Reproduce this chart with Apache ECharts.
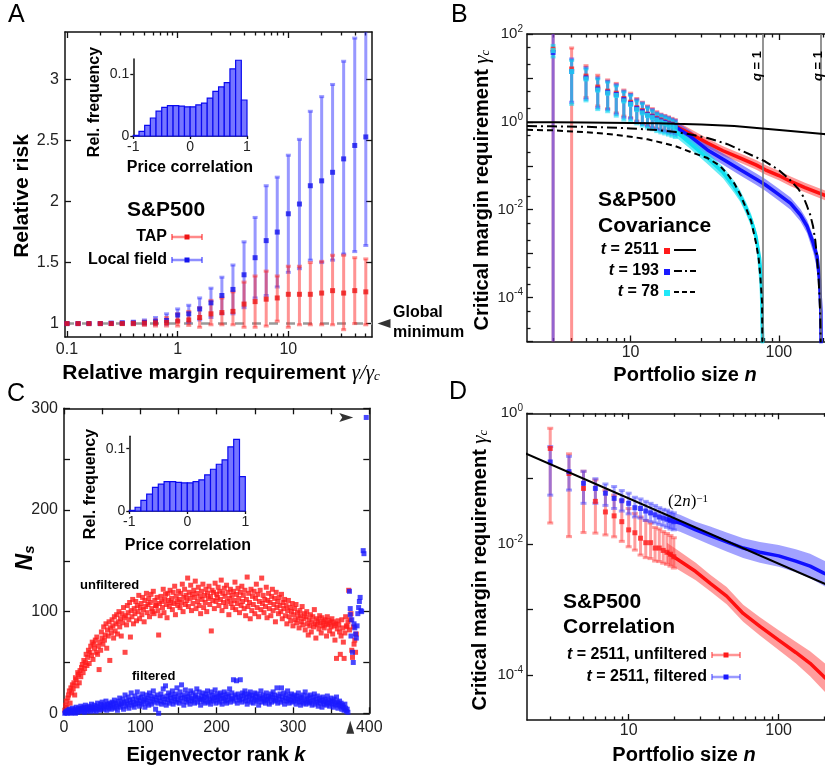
<!DOCTYPE html>
<html><head><meta charset="utf-8">
<script src="https://cdn.jsdelivr.net/npm/echarts@6/dist/echarts.min.js"></script>
<style>html,body{margin:0;padding:0;background:#fff}#c{width:825px;height:769px}</style>
</head><body><div id="c"></div>
<script>
const FONT = "'Liberation Sans', Arial, Helvetica, sans-serif";
const SERIF = "'Liberation Serif', 'DejaVu Serif', 'Times New Roman', serif";

// ---------------- Panel A data ----------------
const aRatio = [0.1,0.126,0.158,0.2,0.251,0.316,0.398,0.501,0.631,0.794,1,1.26,1.58,2,2.51,3.16,3.98,5.01,6.31,7.94,10,12.6,15.8,20,25.1,31.6,39.8,50.1];
const lfMean = [1.0,1.0,1.0,1.0,1.002,1.004,1.006,1.01,1.016,1.025,1.07,1.08,1.12,1.17,1.23,1.28,1.40,1.54,1.68,1.75,1.90,1.98,2.13,2.17,2.24,2.35,2.46,2.53];
const lfLo   = [0.995,0.995,0.995,0.995,0.995,0.995,0.993,0.99,0.99,0.99,1.02,1.01,1.03,1.05,1.08,1.08,1.13,1.21,1.23,1.30,1.42,1.45,1.52,1.50,1.52,1.57,1.59,1.64];
const lfHi   = [1.005,1.005,1.006,1.008,1.012,1.016,1.02,1.03,1.05,1.08,1.12,1.15,1.21,1.29,1.38,1.48,1.67,1.87,2.13,2.20,2.38,2.51,2.74,2.86,2.96,3.15,3.34,3.43];
const tapMean = [1.0,1.0,1.0,1.0,1.0,1.0,1.002,1.004,1.006,1.01,1.02,1.03,1.05,1.08,1.09,1.10,1.16,1.18,1.20,1.21,1.24,1.24,1.24,1.25,1.27,1.25,1.27,1.26];
const tapLo   = [0.997,0.997,0.997,0.997,0.995,0.995,0.99,0.985,0.98,0.98,0.98,0.985,0.97,0.99,0.99,0.99,0.97,0.97,0.98,1.02,0.97,0.99,0.99,0.99,0.99,0.95,1.0,0.99];
const tapHi   = [1.003,1.003,1.003,1.004,1.005,1.006,1.01,1.02,1.03,1.05,1.08,1.10,1.13,1.19,1.21,1.26,1.34,1.39,1.43,1.39,1.47,1.47,1.50,1.51,1.56,1.56,1.54,1.53];
const globalMinRisk = 1;
const aXTicks = [0.1, 1, 10];
const aXMinorTicks = [0.2,0.3,0.4,0.5,0.6,0.7,0.8,0.9,2,3,4,5,6,7,8,9,20,30,40,50];
const aYTicks = [1, 1.5, 2, 2.5, 3];

// inset histograms (price correlation)
const histLeft = [-1,-0.9,-0.8,-0.7,-0.6,-0.5,-0.4,-0.3,-0.2,-0.1,0,0.1,0.2,0.3,0.4,0.5,0.6,0.7,0.8,0.9];
const histBinWidth = 0.1;
const histFreqA = [0.001,0.0076,0.017,0.029,0.040,0.046,0.049,0.049,0.048,0.047,0.047,0.050,0.053,0.061,0.072,0.079,0.086,0.108,0.122,0.058];
const histFreqC = [0.001,0.006,0.017,0.027,0.038,0.043,0.047,0.047,0.046,0.045,0.045,0.047,0.050,0.058,0.067,0.075,0.082,0.103,0.115,0.055];
const histXTicks = [-1, 0, 1];
const histYTicks = [0, 0.1];

// ---------------- Panel B data ----------------
const bN = [3,4,5,6,7,8,9,10,11,12,13,14,15,16,17,18,19,20];
const b2511Mean = [45,16,11,6.2,5.0,4.5,3.4,2.8,2.1,1.8,1.5,1.35,1.2,1.1,1.0,0.93,0.88,0.83];
const b2511Lo   = [1e-6,1e-6,3.6,2.3,2.0,1.6,1.35,1.25,1.05,0.92,0.83,0.76,0.7,0.66,0.63,0.6,0.58,0.56];
const b2511Hi   = [1e3,48,19,11.5,9.0,7.5,5.3,4.5,3.4,2.8,2.3,2.0,1.7,1.5,1.4,1.3,1.2,1.12];
const b193Mean = [38,14,10,5.6,4.7,4.2,3.2,2.6,2.0,1.7,1.45,1.3,1.15,1.05,0.97,0.9,0.85,0.8];
const b193Lo   = [1e-6,2.8,3.3,2.1,1.9,1.5,1.25,1.2,1.0,0.88,0.8,0.73,0.67,0.63,0.6,0.57,0.55,0.52];
const b193Hi   = [1e3,27,17,10,8.4,7.0,5.0,4.2,3.2,2.7,2.2,1.9,1.6,1.45,1.35,1.25,1.15,1.08];
const b78Mean = [42,14,9.5,5.3,4.5,4.0,3.0,2.5,1.9,1.6,1.4,1.25,1.1,1.0,0.92,0.85,0.8,0.74];
const b78Lo   = [30,2.5,3.0,1.9,1.7,1.35,1.1,1.05,0.9,0.8,0.72,0.66,0.6,0.56,0.53,0.5,0.47,0.44];
const b78Hi   = [55,25,16,9.5,8.0,6.6,4.8,4.0,3.0,2.6,2.1,1.8,1.55,1.4,1.3,1.2,1.1,1.0];

const b2511BandN    = [20,25,33,42,55,70,81,100,120,150,213,300,400,500];
const b2511BandMean = [0.8,0.55,0.33,0.22,0.15,0.105,0.081,0.06,0.044,0.032,0.02,0.013,0.009,0.007];
const b2511BandLo   = [0.6,0.43,0.26,0.17,0.117,0.082,0.063,0.047,0.034,0.025,0.0155,0.01,0.007,0.0054];
const b2511BandHi   = [1.08,0.71,0.42,0.28,0.19,0.135,0.104,0.077,0.057,0.041,0.026,0.017,0.012,0.009];
const b193BandN    = [20,25,33,42,55,70,81,100,120,140,155,170,181,188,192,194];
const b193BandMean = [0.78,0.48,0.23,0.14,0.081,0.05,0.037,0.022,0.014,0.0075,0.0042,0.0018,8.6e-4,2.5e-4,5e-5,1e-7];
const b193BandLo   = [0.58,0.36,0.17,0.105,0.06,0.037,0.027,0.016,0.01,0.0054,0.0029,0.0011,4.5e-4,1e-4,1e-7,1e-7];
const b193BandHi   = [1.05,0.65,0.31,0.19,0.11,0.068,0.05,0.03,0.019,0.0102,0.0058,0.0026,0.0013,4.5e-4,1.2e-4,1e-7];
const b78BandN    = [20,25,33,42,50,55,60,65,70,74,76,77,78,80];
const b78BandMean = [0.62,0.33,0.15,0.07,0.033,0.02,0.011,0.0058,0.0025,8e-4,3e-4,9e-5,1e-6,1e-7];
const b78BandLo   = [0.46,0.25,0.11,0.052,0.024,0.015,0.008,0.0042,0.0017,2e-4,1e-7,1e-7,1e-7,1e-7];
const b78BandHi   = [0.84,0.45,0.2,0.095,0.045,0.027,0.015,0.008,0.0035,0.0012,5e-4,2e-4,1e-4,1e-7];

const theory2511N = [2,3,5,7,10,15,20,30,50,81,120,200,300,500];
const theory2511  = [0.98,0.975,0.965,0.955,0.945,0.925,0.9,0.87,0.8,0.7,0.62,0.53,0.46,0.36];
const theory193N = [2,3,5,7,10,15,20,25,33,45,60,81,100,120,135,146,155,163,170,176,181,185,188,190,192,193];
const theory193  = [0.8,0.79,0.77,0.745,0.71,0.65,0.59,0.52,0.43,0.31,0.2,0.125,0.08,0.046,0.03,0.02,0.012,0.0075,0.0042,0.002,8e-4,3e-4,1e-4,4e-5,5e-6,1e-7];
const theory78N = [2,3,5,7,10,13,16,20,26,33,40,45,50,55,60,65,70,73,75,77,78];
const theory78  = [0.66,0.64,0.58,0.53,0.46,0.4,0.34,0.28,0.2,0.15,0.1,0.065,0.04,0.022,0.011,0.0055,0.0018,0.0008,0.0003,8e-5,1e-7];
const qOneN = [78, 193];
const bXTicks = [10, 100];
const bXMinorTicks = [3,4,5,6,7,8,9,20,30,40,50,60,70,80,90,200,300,400,500];
const bYTicks = [1e-5,1e-4,1e-3,1e-2,1e-1,1,10,100];
const bYLabels = [1e-4,1e-2,1,100];
const bYMinorTicks = [2e-5,5e-5,2e-4,5e-4,2e-3,5e-3,2e-2,5e-2,0.2,0.5,2,5,20,50];

// ---------------- Panel C data ----------------
const cUnfiltered = [
3,8,12,6,15,18,22,10,25,20,28,24,30,18,35,33,27,40,38,30,
42,36,45,48,40,52,44,50,58,47,55,62,49,60,66,57,70,53,68,64,
72,60,75,58,66,43,70,62,80,74,68,85,72,77,88,64,82,76,90,52,
84,79,92,86,74,95,81,88,97,78,90,100,85,93,76,98,89,104,94,60,
96,87,106,99,92,109,75,101,95,112,88,103,98,110,91,106,100,116,93,104,
108,97,114,102,90,111,105,118,99,107,113,95,109,117,103,100,120,98,111,106,
106,114,101,77,108,96,115,110,104,122,99,112,117,107,94,118,111,105,121,109,
113,102,119,108,125,97,115,110,106,120,112,104,118,109,127,100,114,122,107,116,
111,133,105,119,113,126,101,117,108,121,114,130,103,118,110,124,106,115,98,120,
112,127,104,116,109,122,100,118,113,125,107,115,81,121,111,119,103,128,110,117,
114,124,106,120,112,131,101,118,109,123,115,105,126,110,119,97,113,122,108,116,
104,120,111,129,102,117,108,123,113,99,119,106,125,110,116,103,121,96,112,134,
105,118,109,93,122,101,115,107,120,98,113,127,104,117,95,110,121,102,133,108,
116,99,112,105,124,94,111,118,103,109,96,115,122,101,107,113,90,119,104,110,
98,114,106,100,117,93,109,103,112,96,106,88,101,111,95,104,91,100,108,86,
97,103,92,107,89,99,94,84,101,96,90,105,87,93,98,82,95,100,88,77,
92,86,97,80,90,95,85,102,88,74,93,87,91,83,96,89,79,94,86,90,
84,92,88,76,95,87,91,81,89,85,93,78,90,86,72,88,54,83,91,87,
80,58,76,92,84,70,54,79,95,86,85,90,121,82,92,98,62,55,85,68,72,60,78];
const cFiltered = [
0,1,2,0,3,1,4,2,0,3,5,1,2,4,0,6,3,1,5,2,
4,7,2,5,3,6,1,8,4,2,6,3,7,5,2,9,4,6,3,8,
5,2,7,10,4,6,3,9,5,11,7,4,8,6,12,3,9,7,5,10,
8,4,11,6,9,13,5,10,7,3,12,8,15,6,10,9,14,4,11,18,
7,12,9,16,5,13,10,20,8,14,11,6,17,9,13,21,10,15,7,12,
16,9,19,11,14,6,13,18,10,15,8,20,12,17,9,14,22,11,16,4,
13,18,10,0,15,12,19,9,16,24,11,14,27,8,17,13,20,10,15,18,
12,22,9,16,14,19,11,25,13,17,10,21,15,28,12,18,8,16,23,14,
11,19,13,17,9,22,15,12,20,14,10,18,16,24,11,15,21,13,8,17,
14,20,12,16,10,19,15,22,11,17,13,9,21,14,18,12,16,23,10,15,
19,13,17,11,20,15,9,18,14,21,12,16,10,19,13,17,24,11,15,20,
14,33,12,18,16,32,10,19,15,13,33,17,11,20,14,18,22,12,16,9,
19,13,17,21,11,15,18,10,14,20,16,12,19,13,8,17,15,22,11,14,
18,12,16,10,20,14,13,17,9,15,19,11,16,21,13,18,12,15,25,10,
17,14,19,11,25,16,13,20,9,15,18,12,22,14,10,17,13,19,11,16,
12,18,14,9,17,13,20,11,15,8,16,12,18,10,14,21,9,13,17,11,
15,10,18,12,8,16,13,19,9,14,11,17,7,12,15,10,13,6,16,11,
9,14,12,8,17,10,13,7,11,15,9,12,6,14,10,8,16,11,5,9,
12,7,10,4,8,6,3,9,5,2,4,1];
const cFilteredTail = [[374,120],[375,103],[375,97],[376,76],[377,92],[378,60],[379,50],[380,88],[381,84],[382,78],[383,74],[384,86],[385,98],[386,104],[387,110],[388,114],[389,101],[390,100],[392,160],[393,157],[396,291]];
const cArrowTop = [[396, 291]];
const cArrowBottom = [[375, 0]];
const cXTicks = [0,50,100,150,200,250,300,350,400];
const cXLabels = [0,100,200,300,400];
const cYTicks = [0,50,100,150,200,250,300];
const cYLabels = [0,100,200,300];

// ---------------- Panel D data ----------------
const dN = [3,4,5,6,7,8,9,10,11,12,13,14,15,16,17,18,19,20];
const dUnfMean = [0.29,0.12,0.071,0.045,0.031,0.027,0.022,0.0165,0.0149,0.0123,0.0105,0.0105,0.0087,0.0087,0.008,0.0075,0.007,0.0064];
const dUnfLo   = [0.021,0.013,0.015,0.0147,0.0138,0.0129,0.011,0.0091,0.0081,0.0068,0.0062,0.006,0.0055,0.0054,0.0051,0.0049,0.0046,0.0043];
const dUnfHi   = [0.59,0.24,0.13,0.096,0.067,0.056,0.047,0.035,0.0295,0.026,0.023,0.021,0.018,0.017,0.0155,0.0145,0.0135,0.0125];
const dFilMean = [0.18,0.128,0.085,0.071,0.06,0.05,0.046,0.042,0.036,0.035,0.032,0.03,0.028,0.026,0.025,0.024,0.023,0.022];
const dFilLo   = [0.056,0.067,0.042,0.042,0.039,0.035,0.032,0.029,0.026,0.025,0.023,0.022,0.021,0.02,0.019,0.018,0.017,0.0165];
const dFilHi   = [0.31,0.22,0.13,0.1,0.083,0.076,0.066,0.06,0.052,0.049,0.045,0.042,0.039,0.036,0.034,0.033,0.031,0.03];
const dUnfBandN    = [18,22,28,35,45,58,75,100,130,162,200,250,300,400];
const dUnfBandMean = [0.0075,0.0055,0.0038,0.0025,0.0016,8.7e-4,5.5e-4,3.4e-4,2.2e-4,1.5e-4,9.4e-5,6e-5,4e-5,2.2e-5];
const dUnfBandLo   = [0.0052,0.0039,0.0028,0.0019,0.0012,6.5e-4,4e-4,2.4e-4,1.5e-4,9.5e-5,5.7e-5,3.5e-5,2.3e-5,1.2e-5];
const dUnfBandHi   = [0.0105,0.0076,0.0052,0.0034,0.0022,0.00118,7.6e-4,4.8e-4,3.2e-4,2.3e-4,1.55e-4,1e-4,7e-5,4e-5];
const dFilBandN    = [18,22,28,35,45,58,75,100,130,162,200,250,300,400];
const dFilBandMean = [0.024,0.021,0.0165,0.0135,0.0108,0.0087,0.0075,0.0066,0.0055,0.0046,0.0036,0.0028,0.0022,0.0015];
const dFilBandLo   = [0.018,0.0155,0.0122,0.0098,0.0077,0.0061,0.0052,0.0045,0.0037,0.003,0.0023,0.0018,0.0014,0.0009];
const dFilBandHi   = [0.032,0.028,0.022,0.0185,0.015,0.0123,0.0108,0.0097,0.0083,0.0071,0.0056,0.0044,0.0035,0.0025];
const dPowerN = [2, 500];
const dPower  = [0.25, 0.001];
const dXTicks = [10, 100];
const dXMinorTicks = [3,4,5,6,7,8,9,20,30,40,50,60,70,80,90,200,300,400,500];
const dYTicks = [1e-4,1e-3,1e-2,1e-1,1];
const dYLabels = [1e-4,1e-2,1];

// ---------------- helpers ----------------
const zip3 = (x, a, b) => x.map((v, i) => [v, a[i], b[i]]);
const zip2 = (x, a) => x.map((v, i) => [v, a[i]]);
const AXL = {color: '#111', width: 1.5};
const TICK = {color: '#111', width: 1.3};

function errRender(color, lw, cap) {
  return function (params, api) {
    const cs = params.coordSys;
    const x = api.value(0), lo = api.value(1), hi = api.value(2);
    const top = api.coord([x, hi]), bot = api.coord([x, lo]);
    const y0 = cs.y, y1 = cs.y + cs.height;
    const cl = v => Math.max(y0, Math.min(y1, v));
    const st = {stroke: color, lineWidth: lw};
    const ch = [{type: 'line', shape: {x1: top[0], y1: cl(top[1]), x2: bot[0], y2: cl(bot[1])}, style: st}];
    if (top[1] >= y0) ch.push({type: 'line', shape: {x1: top[0] - cap, y1: top[1], x2: top[0] + cap, y2: top[1]}, style: st});
    if (bot[1] <= y1) ch.push({type: 'line', shape: {x1: bot[0] - cap, y1: bot[1], x2: bot[0] + cap, y2: bot[1]}, style: st});
    return {type: 'group', children: ch};
  };
}
function errSeries(xi, yi, data, color, lw, cap, z) {
  return {type: 'custom', xAxisIndex: xi, yAxisIndex: yi, data, silent: true, z: z || 2,
    renderItem: errRender(color, lw, cap)};
}
function bandSeries(xi, yi, ns, lo, hi, color, z) {
  return {type: 'custom', xAxisIndex: xi, yAxisIndex: yi, silent: true, z: z || 2,
    data: [[ns[0], hi[0]]],
    renderItem: function (params, api) {
      const cs = params.coordSys;
      const y0 = cs.y, y1 = cs.y + cs.height;
      const cl = p => [p[0], Math.max(y0, Math.min(y1, p[1]))];
      const pts = [];
      for (let i = 0; i < ns.length; i++) pts.push(cl(api.coord([ns[i], hi[i]])));
      for (let i = ns.length - 1; i >= 0; i--) pts.push(cl(api.coord([ns[i], lo[i]])));
      return {type: 'polygon', shape: {points: pts}, style: {fill: color}};
    }};
}
function histSeries(xi, yi, freq) {
  return {type: 'custom', xAxisIndex: xi, yAxisIndex: yi, silent: true,
    data: histLeft.map((l, i) => [l, freq[i]]),
    renderItem: function (params, api) {
      const l = api.value(0), f = api.value(1);
      const p0 = api.coord([l, 0]), p1 = api.coord([l + histBinWidth, f]);
      return {type: 'rect', shape: {x: p0[0], y: p1[1], width: p1[0] - p0[0], height: p0[1] - p1[1]},
        style: {fill: '#7676ff', stroke: '#0a0af0', lineWidth: 1.2}};
    }};
}
function scat(xi, yi, data, color, size, z) {
  return {type: 'scatter', xAxisIndex: xi, yAxisIndex: yi, data, symbol: 'rect', symbolSize: size,
    itemStyle: {color}, silent: true, z: z || 3, clip: true};
}
function meanLine(xi, yi, ns, m, color, w, z) {
  return {type: 'line', xAxisIndex: xi, yAxisIndex: yi, data: zip2(ns, m), showSymbol: false, symbol: 'none',
    lineStyle: {color, width: w}, silent: true, clip: true, z: z || 3};
}
const decLabel = v => String(Number(Math.pow(10, Math.round(Math.log10(v))).toPrecision(1)));
const supLabel = v => '{b|10}{s|' + Math.round(Math.log10(v)) + '}';
const supRich = {b: {fontSize: 15, fontFamily: FONT, color: '#222', lineHeight: 20},
                 s: {fontSize: 10, fontFamily: FONT, color: '#222', verticalAlign: 'top', lineHeight: 10}};

function mainAxis(grid, type, min, max, pos, ticks, labels, opts) {
  opts = opts || {};
  return Object.assign({
    type, gridIndex: grid, min, max, position: pos, splitLine: {show: false},
    axisLine: {show: opts.line !== false, onZero: false, lineStyle: AXL},
    axisTick: {show: true, inside: opts.outside ? false : true, length: opts.tickLen || 6, lineStyle: TICK, customValues: ticks},
    axisLabel: labels ? Object.assign({show: true, customValues: labels, fontSize: 16, fontFamily: FONT, color: '#222', margin: 5}, opts.label || {}) : {show: false}
  }, opts.extra || {});
}

// ---------------- axes ----------------
const xAxis = [
  mainAxis(0, 'log', 0.096, 57, 'bottom', aXTicks, aXTicks, {label: {formatter: decLabel, margin: 5}}), //0
  mainAxis(0, 'log', 0.096, 57, 'bottom', aXMinorTicks, null, {line: false, tickLen: 3.5}),               //1
  mainAxis(0, 'log', 0.096, 57, 'top', aXTicks, null),                                                   //2
  mainAxis(0, 'log', 0.096, 57, 'top', aXMinorTicks, null, {line: false, tickLen: 3.5}),                  //3
  mainAxis(1, 'value', -1, 1, 'bottom', histXTicks, histXTicks, {outside: true, tickLen: 3, label: {fontSize: 14, margin: 4}}), //4
  mainAxis(2, 'log', 2, 500, 'bottom', bXTicks, bXTicks, {label: {formatter: decLabel, margin: 3}}),   //5
  mainAxis(2, 'log', 2, 500, 'bottom', bXMinorTicks, null, {line: false, tickLen: 3.5}),                //6
  mainAxis(2, 'log', 2, 500, 'top', bXTicks, null),                                                     //7
  mainAxis(2, 'log', 2, 500, 'top', bXMinorTicks, null, {line: false, tickLen: 3.5}),                   //8
  mainAxis(3, 'value', 0, 400, 'bottom', cXTicks, cXLabels, {label: {margin: 6}}),                      //9
  mainAxis(3, 'value', 0, 400, 'top', cXTicks, null),                                                   //10
  mainAxis(4, 'value', -1, 1, 'bottom', histXTicks, histXTicks, {outside: true, tickLen: 3, label: {fontSize: 14, margin: 4}}), //11
  mainAxis(5, 'log', 2.1, 500, 'bottom', dXTicks, dXTicks, {label: {formatter: decLabel, margin: 3}}), //12
  mainAxis(5, 'log', 2.1, 500, 'bottom', dXMinorTicks, null, {line: false, tickLen: 3.5}),              //13
  mainAxis(5, 'log', 2.1, 500, 'top', dXTicks, null),                                                   //14
  mainAxis(5, 'log', 2.1, 500, 'top', dXMinorTicks, null, {line: false, tickLen: 3.5})                  //15
];
const yAxis = [
  mainAxis(0, 'value', 0.89, 3.39, 'left', aYTicks, aYTicks, {label: {margin: 6}}),                   //0
  mainAxis(0, 'value', 0.89, 3.39, 'right', aYTicks, null),                                           //1
  mainAxis(1, 'value', 0, 0.124, 'left', histYTicks, histYTicks, {outside: true, tickLen: 3, label: {fontSize: 14, margin: 4}}), //2
  mainAxis(2, 'log', 1e-5, 100, 'left', bYTicks, bYLabels, {label: {formatter: supLabel, rich: supRich, margin: 4}}), //3
  mainAxis(2, 'log', 1e-5, 100, 'left', bYMinorTicks, null, {line: false, tickLen: 3.5}),             //4
  mainAxis(3, 'value', 0, 300, 'left', cYTicks, cYLabels, {label: {margin: 6}}),                      //5
  mainAxis(3, 'value', 0, 300, 'right', cYTicks, null),                                               //6
  mainAxis(4, 'value', 0, 0.12, 'left', histYTicks, histYTicks, {outside: true, tickLen: 3, label: {fontSize: 14, margin: 4}}), //7
  mainAxis(5, 'log', 2.04e-5, 1, 'left', dYTicks, dYLabels, {label: {formatter: supLabel, rich: supRich, margin: 4}})  //8
];

const grid = [
  {left: 65, top: 32, width: 307, height: 305},
  {left: 133.3, top: 59, width: 113.7, height: 77},
  {left: 527, top: 34, width: 355.5, height: 307.5},
  {left: 64, top: 408.3, width: 305.3, height: 305},
  {left: 129.3, top: 436.2, width: 116, height: 74.8},
  {left: 527, top: 413.3, width: 356.5, height: 306.7}
].map(g => Object.assign({outerBoundsMode: 'none', containLabel: false}, g));

// ---------------- series ----------------
const RED_BAR = 'rgba(255,40,40,0.5)', BLUE_BAR = 'rgba(50,50,255,0.5)', CYAN_BAR = 'rgba(0,215,240,0.55)';
const series = [
  // A
  errSeries(0, 0, zip3(aRatio, lfLo, lfHi), BLUE_BAR, 3, 2.5),
  errSeries(0, 0, zip3(aRatio, tapLo, tapHi), RED_BAR, 3, 2.5),
  Object.assign(scat(0, 0, zip2(aRatio, lfMean), '#1414ee', 5), {
    markLine: {silent: true, symbol: 'none', data: [{yAxis: globalMinRisk}], label: {show: false},
      lineStyle: {color: '#9a9a9a', width: 2.5, type: [9, 8]}, z: 1}}),
  scat(0, 0, zip2(aRatio, tapMean), '#ee1414', 5),
  {type: 'scatter', xAxisIndex: 0, yAxisIndex: 0, data: [[57, globalMinRisk]], clip: false, silent: true,
    symbol: 'path://M12,0 L0,5 L12,10 Z', symbolSize: [13, 9], symbolOffset: [12, 0], itemStyle: {color: '#000'}},
  histSeries(4, 2, histFreqA),
  // B
  bandSeries(5, 3, b2511BandN, b2511BandLo, b2511BandHi, 'rgba(255,50,50,0.5)'),
  bandSeries(5, 3, b193BandN, b193BandLo, b193BandHi, 'rgba(60,60,255,0.55)'),
  bandSeries(5, 3, b78BandN, b78BandLo, b78BandHi, 'rgba(0,225,240,0.6)'),
  meanLine(5, 3, b2511BandN, b2511BandMean, '#ff1010', 3.5),
  meanLine(5, 3, b193BandN, b193BandMean, '#1010ff', 3.5),
  meanLine(5, 3, b78BandN, b78BandMean, '#10e0f0', 3.5),
  errSeries(5, 3, zip3(bN, b2511Lo, b2511Hi), 'rgba(255,60,60,0.55)', 3, 2.5),
  errSeries(5, 3, zip3(bN, b193Lo, b193Hi), 'rgba(60,60,255,0.55)', 3, 2.5),
  errSeries(5, 3, zip3(bN, b78Lo, b78Hi), CYAN_BAR, 3, 2.5),
  scat(5, 3, zip2(bN, b2511Mean), '#ff2020', 5),
  scat(5, 3, zip2(bN, b193Mean), '#1a1aff', 5),
  scat(5, 3, zip2(bN, b78Mean), '#20e0f0', 5),
  {type: 'line', xAxisIndex: 5, yAxisIndex: 3, data: zip2(theory2511N, theory2511), showSymbol: false, symbol: 'none', clip: true, silent: true, z: 5,
    lineStyle: {color: '#000', width: 2}},
  {type: 'line', xAxisIndex: 5, yAxisIndex: 3, data: zip2(theory193N, theory193), showSymbol: false, symbol: 'none', clip: true, silent: true, z: 5,
    lineStyle: {color: '#000', width: 2, type: [10, 4, 2, 4]}},
  {type: 'line', xAxisIndex: 5, yAxisIndex: 3, data: zip2(theory78N, theory78), showSymbol: false, symbol: 'none', clip: true, silent: true, z: 5,
    lineStyle: {color: '#000', width: 2, type: [6, 4]},
    markLine: {silent: true, symbol: 'none', label: {show: false}, data: qOneN.map(v => ({xAxis: v})),
      lineStyle: {color: '#7a7a7a', width: 1.6, type: 'solid'}}},
  // C
  scat(9, 5, cUnfiltered.map((v, i) => [i + 1, v]), '#ff1a1a', 5),
  scat(9, 5, cFiltered.map((v, i) => [i + 1, v]).concat(cFilteredTail), '#1a1aff', 5),
  {type: 'scatter', xAxisIndex: 9, yAxisIndex: 5, data: cArrowTop, clip: false, silent: true,
    symbol: 'path://M0,0 L14,5 L0,10 L3,5 Z', symbolSize: [14, 9], symbolOffset: [-20, 0], itemStyle: {color: '#000'}},
  {type: 'scatter', xAxisIndex: 9, yAxisIndex: 5, data: cArrowBottom, clip: false, silent: true,
    symbol: 'triangle', symbolSize: [8, 13], symbolOffset: [0, 14], itemStyle: {color: '#000'}},
  histSeries(11, 7, histFreqC),
  // D
  bandSeries(12, 8, dUnfBandN, dUnfBandLo, dUnfBandHi, 'rgba(255,60,60,0.5)'),
  bandSeries(12, 8, dFilBandN, dFilBandLo, dFilBandHi, 'rgba(70,70,255,0.5)'),
  meanLine(12, 8, dUnfBandN, dUnfBandMean, '#ff1010', 3.5),
  meanLine(12, 8, dFilBandN, dFilBandMean, '#1010ff', 3.5),
  errSeries(12, 8, zip3(dN, dUnfLo, dUnfHi), 'rgba(255,60,60,0.5)', 3, 3),
  errSeries(12, 8, zip3(dN, dFilLo, dFilHi), 'rgba(70,70,255,0.5)', 3, 3),
  scat(12, 8, zip2(dN, dUnfMean), '#ff1a1a', 5),
  scat(12, 8, zip2(dN, dFilMean), '#1a1aff', 5),
  {type: 'line', xAxisIndex: 12, yAxisIndex: 8, data: zip2(dPowerN, dPower), showSymbol: false, symbol: 'none', clip: true, silent: true, z: 6,
    lineStyle: {color: '#000', width: 2}}
];

// ---------------- text / legends ----------------
function T(x, y, text, o) {
  o = o || {};
  return {type: 'text', x, y, rotation: o.rot || 0, z: 100, silent: true,
    style: Object.assign({text, fill: '#000', fontFamily: FONT, fontSize: o.size || 16, fontWeight: o.weight || 'bold',
      align: o.align || 'center', verticalAlign: 'middle', rich: o.rich}, o.style || {})};
}
const R = Math.PI / 2;
const gRich = {g: {fontFamily: SERIF, fontStyle: 'italic', fontSize: 21, fill: '#000', fontWeight: 'normal'},
               s: {fontFamily: SERIF, fontStyle: 'italic', fontSize: 13, fill: '#000', verticalAlign: 'bottom', fontWeight: 'normal'}};
const iRich = {i: {fontStyle: 'italic', fontWeight: 'bold', fontSize: 16, fontFamily: FONT, fill: '#000'}};
const iRich20 = {i: {fontStyle: 'italic', fontWeight: 'bold', fontSize: 20, fontFamily: FONT, fill: '#000'}};
const iRich13 = {i: {fontStyle: 'italic', fontWeight: 'bold', fontSize: 13, fontFamily: FONT, fill: '#000'}};
function ebSample(x1, x2, y, bar, mark) {
  return [
    {type: 'line', z: 100, shape: {x1, y1: y, x2, y2: y}, style: {stroke: bar, lineWidth: 2.5}},
    {type: 'line', z: 100, shape: {x1, y1: y - 3, x2: x1, y2: y + 3}, style: {stroke: bar, lineWidth: 2}},
    {type: 'line', z: 100, shape: {x1: x2, y1: y - 3, x2, y2: y + 3}, style: {stroke: bar, lineWidth: 2}},
    {type: 'rect', z: 101, shape: {x: (x1 + x2) / 2 - 2.5, y: y - 2.5, width: 5, height: 5}, style: {fill: mark}}
  ];
}
function lnSample(x1, x2, y, dash) {
  return {type: 'line', z: 100, shape: {x1, y1: y, x2, y2: y}, style: {stroke: '#000', lineWidth: 2, lineDash: dash}};
}
const sq = (x, y, c) => ({type: 'rect', z: 100, shape: {x: x - 3, y: y - 3, width: 6, height: 6}, style: {fill: c}});

const graphic = [
  T(8, 15, 'A', {size: 25, weight: 'normal', align: 'left'}),
  T(451, 15, 'B', {size: 25, weight: 'normal', align: 'left'}),
  T(7, 394, 'C', {size: 25, weight: 'normal', align: 'left'}),
  T(449, 392, 'D', {size: 25, weight: 'normal', align: 'left'}),
  // A
  T(22, 196, 'Relative risk', {size: 21, rot: R}),
  T(221, 373, 'Relative margin requirement {g|γ/γ}{s|c}', {size: 21, rich: gRich}),
  T(95, 102, 'Rel. frequency', {size: 16, rot: R}),
  T(190, 168, 'Price correlation', {size: 16}),
  T(166, 210, 'S&P500', {size: 21}),
  T(167, 237, 'TAP', {size: 16, align: 'right'}),
  T(167, 260, 'Local field', {size: 16, align: 'right'}),
  ...ebSample(172, 202, 237, 'rgba(255,40,40,0.55)', '#ee1414'),
  ...ebSample(172, 202, 260, 'rgba(50,50,255,0.55)', '#1414ee'),
  T(393, 313, 'Global', {size: 16, align: 'left'}),
  T(393, 333, 'minimum', {size: 16, align: 'left'}),
  // B
  T(482, 190, 'Critical margin requirement {g|γ}{s|c}', {size: 20, rot: R, rich: gRich}),
  T(685, 375, 'Portfolio size {i|n}', {size: 20, rich: iRich20}),
  T(598, 200, 'S&P500', {size: 21, align: 'left'}),
  T(598, 226, 'Covariance', {size: 21, align: 'left'}),
  T(659, 250, '{i|t} = 2511', {size: 16, align: 'right', rich: iRich}),
  T(659, 271, '{i|t} = 193', {size: 16, align: 'right', rich: iRich}),
  T(659, 292, '{i|t} = 78', {size: 16, align: 'right', rich: iRich}),
  sq(667, 251, '#ff1a1a'), sq(667, 272, '#1a1aff'), sq(667, 293, '#20e8f8'),
  lnSample(674, 696, 250, null), lnSample(674, 696, 271, [8, 3, 2, 3]), lnSample(674, 696, 292, [5, 3]),
  T(757, 66, '{i|q} = 1', {size: 13, rot: R, rich: iRich13}),
  T(818, 66, '{i|q} = 1', {size: 13, rot: R, rich: iRich13}),
  // C
  T(26, 558, '{n|N}{s|s}', {rot: R, rich: {n: {fontStyle: 'italic', fontWeight: 'bold', fontSize: 23, fontFamily: FONT, fill: '#000'},
                                           s: {fontStyle: 'italic', fontWeight: 'bold', fontSize: 15, fontFamily: FONT, fill: '#000', verticalAlign: 'bottom'}}}),
  T(216, 755, 'Eigenvector rank {i|k}', {size: 20, rich: iRich20}),
  T(91, 484, 'Rel. frequency', {size: 16, rot: R}),
  T(188, 546, 'Price correlation', {size: 16}),
  T(80, 585, 'unfiltered', {size: 13, align: 'left'}),
  T(132, 676, 'filtered', {size: 13, align: 'left'}),
  // D
  T(480, 570, 'Critical margin requirement {g|γ}{s|c}', {size: 20, rot: R, rich: gRich}),
  T(684, 755, 'Portfolio size {i|n}', {size: 20, rich: iRich20}),
  T(563, 602, 'S&P500', {size: 21, align: 'left'}),
  T(563, 627, 'Correlation', {size: 21, align: 'left'}),
  T(707, 655, '{i|t} = 2511, unfiltered', {size: 16, align: 'right', rich: iRich}),
  T(707, 677, '{i|t} = 2511, filtered', {size: 16, align: 'right', rich: iRich}),
  ...ebSample(712, 740, 655, 'rgba(255,60,60,0.55)', '#ff1a1a'),
  ...ebSample(712, 740, 677, 'rgba(70,70,255,0.55)', '#1a1aff'),
  T(668, 502, '(2{i|n}){s|−1}', {size: 17, weight: 'normal', align: 'left', style: {fontFamily: SERIF},
    rich: {i: {fontStyle: 'italic', fontFamily: SERIF, fontSize: 17, fill: '#000'},
           s: {fontFamily: SERIF, fontSize: 11, fill: '#000', verticalAlign: 'top'}}})
];

const chart = echarts.init(document.getElementById('c'), null, {renderer: 'canvas', width: 825, height: 769});
chart.setOption({
  animation: false,
  backgroundColor: '#fff',
  grid, xAxis, yAxis, series, graphic
});
</script></body></html>
